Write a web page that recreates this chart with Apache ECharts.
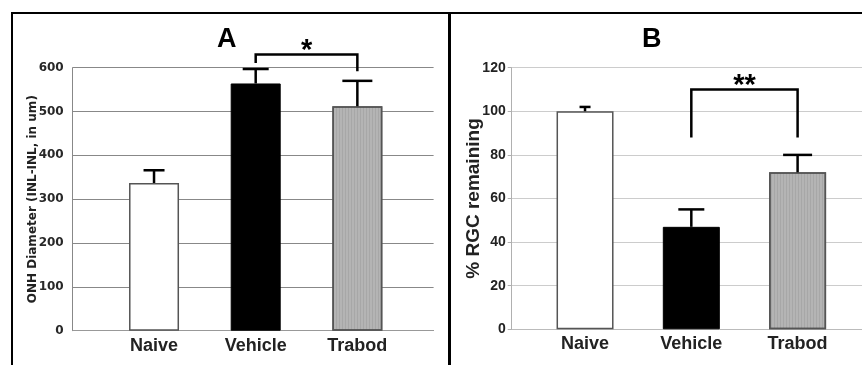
<!DOCTYPE html>
<html><head><meta charset="utf-8">
<script src="https://cdn.jsdelivr.net/npm/echarts@6/dist/echarts.min.js"></script>
<style>html,body{margin:0;padding:0;background:#fff}#c{width:862px;height:365px}</style>
</head><body><div id="c"></div>
<script>
// ---- data ----
const categories = ['Naive', 'Vehicle', 'Trabod'];
const onhMean = [337, 564, 512];
const onhErrTop = [366, 597, 570];
const rgcMean = [100, 47, 72];
const rgcErrTop = [102, 55, 80];
const ticksA = [0, 100, 200, 300, 400, 500, 600];
const ticksB = [0, 20, 40, 60, 80, 100, 120];
// bracket: [from category #, to category #, level, left leg end, right leg end]
const bracketA = [2, 3, 630, 611, 592];
const bracketB = [2, 3, 110, 88, 88];
const starsA = '*';
const starsB = '**';

// ---- styles ----
const barStyles = [
  { color: '#ffffff', borderColor: '#555', borderWidth: 1.5 },
  { color: '#000000', borderColor: '#000', borderWidth: 1 },
  { color: '#b4b4b4', borderColor: '#555', borderWidth: 1.5,
    decal: { symbol: 'rect', symbolSize: 1, dashArrayX: [[1, 2]], dashArrayY: [4, 0], color: 'rgba(0,0,0,0.07)' } }
];
const capA = [21, 26, 30];
const capB = [11, 26, 29];
const ARIAL = 'Liberation Sans, Arial, sans-serif';
const DEJAVU = 'DejaVu Sans, Verdana, sans-serif';

function barData(vals) {
  return vals.map((v, i) => ({ value: [i + 1, v], itemStyle: barStyles[i] }));
}
function errData(means, tops) {
  return means.map((v, i) => [i + 1, v, tops[i]]);
}
function errRender(caps) {
  return function (params, api) {
    const x = api.value(0), lo = api.value(1), hi = api.value(2);
    const p0 = api.coord([x, lo]), p1 = api.coord([x, hi]);
    const cw = caps[params.dataIndex] / 2;
    return { type: 'group', children: [
      { type: 'line', shape: { x1: p0[0], y1: p0[1], x2: p1[0], y2: p1[1] }, style: { stroke: '#000', lineWidth: 2.5 } },
      { type: 'line', shape: { x1: p1[0] - cw, y1: p1[1], x2: p1[0] + cw, y2: p1[1] }, style: { stroke: '#000', lineWidth: 2.5 } }
    ] };
  };
}
function bracketRender(label) {
  return function (params, api) {
    const a = api.value(0), b = api.value(1), lvl = api.value(2), la = api.value(3), lb = api.value(4);
    const pA = api.coord([a, lvl]), pB = api.coord([b, lvl]);
    const qA = api.coord([a, la]), qB = api.coord([b, lb]);
    return { type: 'group', children: [
      { type: 'polyline', shape: { points: [qA, pA, pB, qB] }, style: { stroke: '#000', lineWidth: 2.5, fill: null } },
      { type: 'text', x: (pA[0] + pB[0]) / 2, y: pA[1] - 4,
        style: { text: label, fill: '#000', font: 'bold 29px ' + ARIAL, align: 'center', verticalAlign: 'middle' } }
    ] };
  };
}

const chart = echarts.init(document.getElementById('c'), null, { renderer: 'canvas' });
chart.setOption({
  animation: false,
  backgroundColor: '#fff',
  title: [
    { text: 'A', left: 221.7, top: 21, textAlign: 'center', textStyle: { fontFamily: ARIAL, fontWeight: 'bold', fontSize: 27, color: '#000' } },
    { text: 'B', left: 646.7, top: 21, textAlign: 'center', textStyle: { fontFamily: ARIAL, fontWeight: 'bold', fontSize: 27, color: '#000' } }
  ],
  grid: [
    { left: 72.7, right: 428.4, top: 67.7, bottom: 34.3 },
    { left: 511.7, right: 0, top: 67.7, bottom: 35.7 }
  ],
  xAxis: [
    { type: 'value', gridIndex: 0, min: 0.2, max: 3.75, splitLine: { show: false },
      axisLine: { show: true, lineStyle: { color: '#999', width: 1 } }, axisTick: { show: false },
      axisLabel: { customValues: [1, 2, 3], formatter: v => categories[Math.round(v) - 1], margin: 6,
        fontFamily: ARIAL, fontWeight: 'bold', fontSize: 18, color: '#222' } },
    { type: 'value', gridIndex: 1, min: 0.31, max: 3.606, splitLine: { show: false },
      axisLine: { show: true, lineStyle: { color: '#bbb', width: 1 } }, axisTick: { show: false },
      axisLabel: { customValues: [1, 2, 3], formatter: v => categories[Math.round(v) - 1], margin: 6,
        fontFamily: ARIAL, fontWeight: 'bold', fontSize: 18, color: '#222' } }
  ],
  yAxis: [
    { type: 'value', gridIndex: 0, min: ticksA[0], max: ticksA[ticksA.length - 1], interval: ticksA[1] - ticksA[0],
      name: 'ONH Diameter (INL-INL, in um)', nameLocation: 'middle', nameGap: 34, nameMoveOverlap: false,
      nameTextStyle: { fontFamily: DEJAVU, fontWeight: 'bold', fontSize: 12, color: '#222' },
      axisLine: { show: true, lineStyle: { color: '#888' } }, axisTick: { show: false },
      splitLine: { show: true, lineStyle: { color: '#888', width: 1 } },
      axisLabel: { margin: 9, fontFamily: DEJAVU, fontWeight: 'bold', fontSize: 12, color: '#282828' } },
    { type: 'value', gridIndex: 1, min: ticksB[0], max: ticksB[ticksB.length - 1], interval: ticksB[1] - ticksB[0],
      name: '% RGC remaining', nameLocation: 'middle', nameGap: 28, nameMoveOverlap: false,
      nameTextStyle: { fontFamily: ARIAL, fontWeight: 'bold', fontSize: 19, color: '#222' },
      axisLine: { show: true, lineStyle: { color: '#b0b0b0' } },
      axisTick: { show: true, length: 4, lineStyle: { color: '#b0b0b0' } },
      splitLine: { show: true, lineStyle: { color: '#cccccc', width: 1 } },
      axisLabel: { margin: 6, fontFamily: ARIAL, fontWeight: 'bold', fontSize: 14, color: '#222' } }
  ],
  series: [
    { type: 'bar', xAxisIndex: 0, yAxisIndex: 0, barWidth: 50, data: barData(onhMean), z: 2 },
    { type: 'bar', xAxisIndex: 1, yAxisIndex: 1, barWidth: 57, data: barData(rgcMean), z: 2 },
    { type: 'custom', xAxisIndex: 0, yAxisIndex: 0, renderItem: errRender(capA), data: errData(onhMean, onhErrTop), z: 3 },
    { type: 'custom', xAxisIndex: 1, yAxisIndex: 1, renderItem: errRender(capB), data: errData(rgcMean, rgcErrTop), z: 3 },
    { type: 'custom', xAxisIndex: 0, yAxisIndex: 0, clip: false, renderItem: bracketRender(starsA), data: [bracketA], z: 3 },
    { type: 'custom', xAxisIndex: 1, yAxisIndex: 1, clip: false, renderItem: bracketRender(starsB), data: [bracketB], z: 3 }
  ],
  graphic: [
    { type: 'line', shape: { x1: 11, y1: 13, x2: 862, y2: 13 }, style: { stroke: '#000', lineWidth: 2 }, z: 10 },
    { type: 'line', shape: { x1: 12, y1: 12, x2: 12, y2: 365 }, style: { stroke: '#000', lineWidth: 2 }, z: 10 },
    { type: 'line', shape: { x1: 449.5, y1: 12, x2: 449.5, y2: 365 }, style: { stroke: '#000', lineWidth: 3 }, z: 10 }
  ]
});
</script>
</body></html>
